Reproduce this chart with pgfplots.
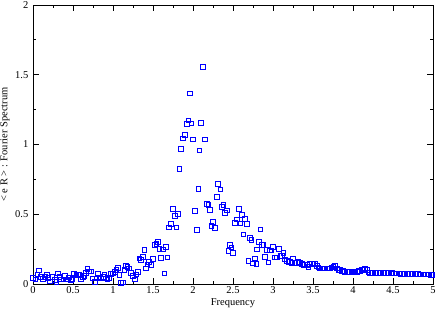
\documentclass[border=0pt]{standalone}
\usepackage{pgfplots}
\pgfplotsset{compat=1.18}
\usepackage{fontspec}
\setmainfont{Liberation Serif}
\begin{document}
\fontsize{10.5}{12}\selectfont
\begin{tikzpicture}
\begin{axis}[name=ax,
  scale only axis, width=400pt, height=279pt,
  xmin=0, xmax=5, ymin=0, ymax=2,
  xtick={0,0.5,...,5}, ytick={0,0.5,...,2},
  minor tick num=1,
  tick align=inside,
  major tick length=6pt, minor tick length=3pt,
  xticklabels={0,0.5,1,1.5,2,2.5,3,3.5,4,4.5,5},
  yticklabels={0,0.5,1,1.5,2},
  /pgf/number format/assume math mode=true,
  axis line style={line width=0.8pt},
  every tick/.style={black, line width=0.8pt},
  xticklabel style={font=\fontsize{10.5}{12}\selectfont, yshift=1pt},
  yticklabel style={font=\fontsize{10.5}{12}\selectfont, xshift=-1pt},
  xlabel={Frequency},
  ylabel={< e R > : Fourier Spectrum},
  xlabel style={at={(axis description cs:0.5,-0.068)}, anchor=center, font=\fontsize{10.5}{12}\selectfont},
  ylabel style={at={(axis description cs:-0.07,0.5)}, anchor=center, font=\fontsize{10.5}{12}\selectfont},
  clip=false,
]
\addplot[only marks, mark=square, mark size=2.3pt, draw=blue, line width=0.65pt] table {
x y
0.00 0.045
0.03 0.034
0.055 0.070
0.075 0.098
0.10 0.052
0.12 0.036
0.15 0.052
0.17 0.065
0.19 0.045
0.21 0.020
0.24 0.052
0.27 0.029
0.29 0.017
0.31 0.077
0.33 0.052
0.35 0.034
0.38 0.034
0.40 0.057
0.42 0.034
0.45 0.048
0.47 0.029
0.49 0.036
0.51 0.077
0.54 0.065
0.56 0.070
0.58 0.065
0.60 0.036
0.62 0.048
0.64 0.057
0.66 0.081
0.68 0.108
0.70 0.090
0.72 0.090
0.74 0.040
0.77 0.014
0.79 0.040
0.81 0.077
0.83 0.048
0.85 0.040
0.87 0.052
0.89 0.070
0.91 0.040
0.93 0.034
0.95 0.045
0.975 0.072
1.00 0.077
1.02 0.088
1.04 0.100
1.06 0.117
1.08 0.065
1.10 0.010
1.12 0.012
1.14 0.100
1.16 0.129
1.18 0.124
1.20 0.112
1.225 0.081
1.245 0.057
1.27 0.034
1.29 0.070
1.31 0.088
1.33 0.184
1.35 0.172
1.37 0.196
1.39 0.244
1.41 0.112
1.43 0.141
1.45 0.160
1.47 0.136
1.50 0.179
1.52 0.280
1.54 0.290
1.56 0.303
1.58 0.251
1.60 0.189
1.62 0.249
1.64 0.077
1.66 0.268
1.68 0.191
1.70 0.406
1.72 0.432
1.75 0.540
1.77 0.487
1.79 0.406
1.81 0.502
1.83 0.826
1.85 0.968
1.875 1.044
1.90 1.068
1.92 1.147
1.94 1.173
1.96 1.367
1.98 1.151
2.00 1.037
2.02 0.523
2.046 0.390
2.066 0.681
2.08 0.958
2.10 1.156
2.125 1.556
2.15 1.037
2.17 0.575
2.19 0.568
2.21 0.533
2.23 0.416
2.25 0.446
2.275 0.404
2.30 0.626
2.31 0.717
2.34 0.679
2.36 0.552
2.38 0.566
2.40 0.511
2.42 0.528
2.44 0.239
2.46 0.280
2.48 0.263
2.50 0.224
2.525 0.440
2.55 0.464
2.57 0.540
2.59 0.435
2.61 0.495
2.63 0.356
2.65 0.466
2.67 0.430
2.69 0.165
2.71 0.332
2.73 0.315
2.75 0.148
2.77 0.184
2.79 0.146
2.80 0.249
2.82 0.303
2.84 0.392
2.86 0.280
2.88 0.280
2.90 0.194
2.92 0.244
2.94 0.155
2.96 0.241
2.98 0.241
3.00 0.268
3.025 0.191
3.045 0.191
3.07 0.251
3.09 0.200
3.11 0.203
3.13 0.224
3.15 0.177
3.17 0.167
3.19 0.160
3.21 0.160
3.23 0.153
3.25 0.184
3.275 0.153
3.296 0.153
3.317 0.160
3.338 0.153
3.358 0.143
3.379 0.136
3.40 0.136
3.42 0.136
3.44 0.124
3.46 0.143
3.483 0.148
3.504 0.143
3.525 0.143
3.546 0.129
3.567 0.119
3.588 0.112
3.608 0.112
3.629 0.112
3.65 0.112
3.671 0.112
3.69 0.112
3.71 0.112
3.73 0.119
3.754 0.124
3.775 0.129
3.796 0.112
3.817 0.100
3.838 0.100
3.858 0.095
3.879 0.095
3.90 0.088
3.92 0.088
3.94 0.088
3.96 0.088
3.98 0.088
4.004 0.088
4.025 0.088
4.046 0.088
4.067 0.093
4.088 0.095
4.108 0.100
4.129 0.105
4.15 0.112
4.17 0.100
4.19 0.083
4.21 0.081
4.23 0.081
4.25 0.080
4.27 0.081
4.29 0.080
4.31 0.081
4.33 0.082
4.35 0.081
4.37 0.080
4.39 0.079
4.41 0.080
4.43 0.079
4.45 0.078
4.47 0.079
4.49 0.078
4.51 0.077
4.53 0.076
4.55 0.076
4.57 0.076
4.59 0.075
4.61 0.075
4.63 0.074
4.65 0.074
4.67 0.073
4.69 0.073
4.71 0.073
4.73 0.072
4.75 0.072
4.77 0.071
4.79 0.071
4.81 0.071
4.83 0.070
4.85 0.070
4.87 0.069
4.89 0.069
4.91 0.068
4.93 0.068
4.95 0.068
4.97 0.067
4.99 0.067
};
\end{axis}
\pgfresetboundingbox
\path ([shift={(-33pt,-27pt)}]ax.south west) rectangle ([shift={(3pt,5pt)}]ax.north east);
\end{tikzpicture}
\end{document}
